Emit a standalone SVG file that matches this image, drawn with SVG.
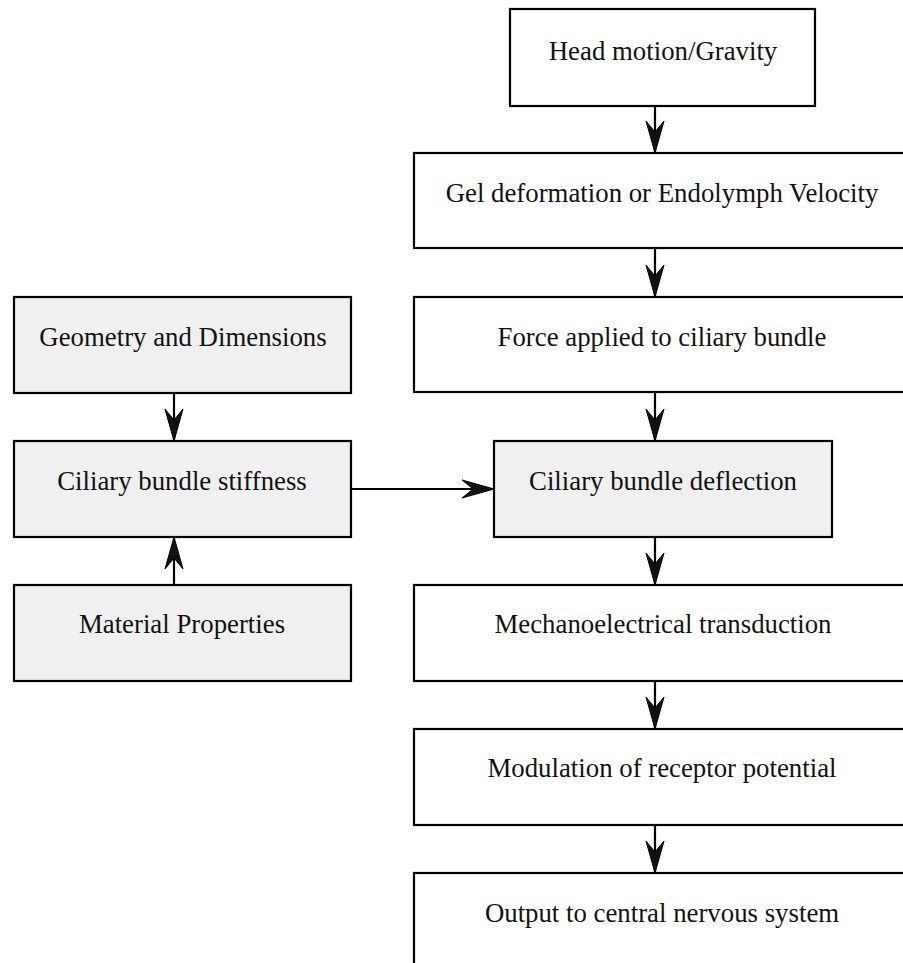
<svg xmlns="http://www.w3.org/2000/svg" width="903" height="963" viewBox="0 0 903 963">
<style>
.box{stroke:#000;stroke-width:2.2;fill:#fff}
.grey{fill:#f0f0f0}
.lbl{font-family:"Liberation Serif","Times New Roman",serif;font-size:26.8px;fill:#111;text-anchor:middle}
.edge{stroke:#000;stroke-width:2.2;fill:none;marker-end:url(#ah)}
</style>
<defs>
<marker id="ah" markerUnits="userSpaceOnUse" viewBox="-33 -10 34 20" refX="0" refY="0" markerWidth="34" markerHeight="20" orient="auto">
<path d="M0,0 L-32,-9 L-21,0 L-32,9 Z" fill="#111" stroke="#000" stroke-width="1"/>
</marker>
</defs>
<rect width="903" height="963" fill="#fff"/>
<g id="edges">
<line class="edge" x1="655" y1="106" x2="655" y2="153"/>
<line class="edge" x1="655" y1="249" x2="655" y2="297"/>
<line class="edge" x1="655" y1="393" x2="655" y2="441"/>
<line class="edge" x1="655" y1="537" x2="655" y2="585"/>
<line class="edge" x1="655" y1="681" x2="655" y2="729"/>
<line class="edge" x1="655" y1="825" x2="655" y2="873"/>
<line class="edge" x1="174" y1="393" x2="174" y2="441"/>
<line class="edge" x1="174" y1="585" x2="174" y2="537"/>
<line class="edge" x1="351" y1="489" x2="494" y2="489"/>
</g>
<g id="head"><rect class="box" x="510" y="9" width="305" height="97"/><text class="lbl" x="663" y="60">Head motion/Gravity</text></g>
<g id="gel"><rect class="box" x="414" y="153" width="500" height="95"/><text class="lbl" x="662" y="202">Gel deformation or Endolymph Velocity</text></g>
<g id="force"><rect class="box" x="414" y="297" width="500" height="95"/><text class="lbl" x="662" y="346">Force applied to ciliary bundle</text></g>
<g id="deflection"><rect class="box grey" x="494" y="441" width="338" height="96"/><text class="lbl" x="663" y="490">Ciliary bundle deflection</text></g>
<g id="mechano"><rect class="box" x="414" y="585" width="500" height="96"/><text class="lbl" x="663" y="633">Mechanoelectrical transduction</text></g>
<g id="modulation"><rect class="box" x="414" y="729" width="500" height="96"/><text class="lbl" x="662" y="777">Modulation of receptor potential</text></g>
<g id="output"><rect class="box" x="414" y="873" width="500" height="96"/><text class="lbl" x="662" y="922">Output to central nervous system</text></g>
<g id="geometry"><rect class="box grey" x="14" y="297" width="337" height="96"/><text class="lbl" x="183" y="346">Geometry and Dimensions</text></g>
<g id="stiffness"><rect class="box grey" x="14" y="441" width="337" height="96"/><text class="lbl" x="182" y="490">Ciliary bundle stiffness</text></g>
<g id="material"><rect class="box grey" x="14" y="585" width="337" height="96"/><text class="lbl" x="182" y="633">Material Properties</text></g>
</svg>
